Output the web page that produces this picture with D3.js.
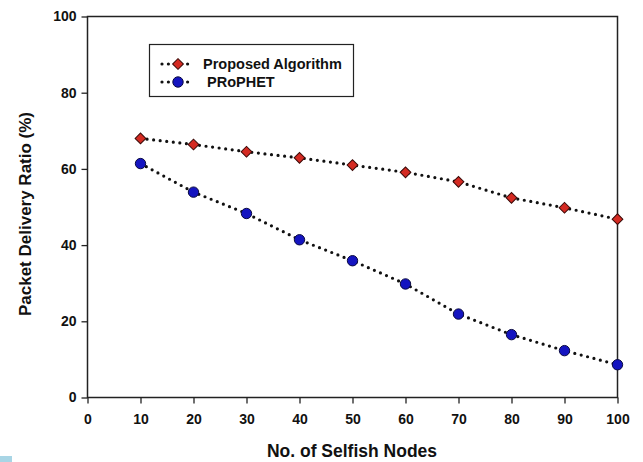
<!DOCTYPE html>
<html><head><meta charset="utf-8">
<script src="https://cdn.jsdelivr.net/npm/d3@7"></script>
<style>body{margin:0;background:#fff}svg{display:block;font-family:"Liberation Sans",Arial,sans-serif}</style>
</head><body><svg id="c" width="643" height="462"></svg>
<script>
const nodes = [10,20,30,40,50,60,70,80,90,100];
const proposed = [68.0,66.4,64.5,62.9,61.0,59.1,56.6,52.4,49.8,46.8];
const prophet = [61.4,53.9,48.3,41.4,35.9,29.8,21.9,16.5,12.3,8.6];
const xTicks = [0,10,20,30,40,50,60,70,80,90,100];
const yTicks = [0,20,40,60,80,100];
const seriesNames = ["Proposed Algorithm"," PRoPHET"];

const svg = d3.select("#c");
const L=87.5,R=617.5,T=16.5,B=397.5;
const x = d3.scaleLinear().domain([0,100]).range([L,R]);
const y = d3.scaleLinear().domain([0,100]).range([B,T]);

svg.append("rect").attr("x",0).attr("y",456).attr("width",12).attr("height",6).attr("fill","#a8d5e5");

svg.append("rect").attr("x",L).attr("y",T).attr("width",R-L).attr("height",B-T)
  .attr("fill","none").attr("stroke","#222").attr("stroke-width",1.5);

const xa = svg.append("g").attr("transform",`translate(0,${B})`)
  .call(d3.axisBottom(x).tickValues(xTicks).tickSize(6).tickPadding(11).tickFormat(d3.format("d")));
const ya = svg.append("g").attr("transform",`translate(${L},0)`)
  .call(d3.axisLeft(y).tickValues(yTicks).tickSize(6).tickPadding(5).tickFormat(d3.format("d")));
[xa,ya].forEach(a=>{
  a.select(".domain").remove();
  a.selectAll("line").attr("stroke","#222").attr("stroke-width",1.3);
  a.selectAll("text").attr("fill","#111").attr("font-size",14).attr("font-weight","bold")
   .attr("font-family",'"Liberation Sans",Arial,sans-serif');
});

svg.append("text").attr("x",352).attr("y",457).attr("text-anchor","middle")
  .attr("font-size",17.5).attr("font-weight","bold").attr("fill","#111").text("No. of Selfish Nodes");
svg.append("text").attr("transform","translate(31,214) rotate(-90)").attr("text-anchor","middle")
  .attr("font-size",17).attr("font-weight","bold").attr("fill","#111").text("Packet Delivery Ratio (%)");

const line = d3.line().x(d=>x(d[0])).y(d=>y(d[1]));
const data = [nodes.map((n,i)=>[n,proposed[i]]), nodes.map((n,i)=>[n,prophet[i]])];
data.forEach(d=>{
  svg.append("path").attr("d",line(d)).attr("fill","none").attr("stroke","#111")
    .attr("stroke-width",3.2).attr("stroke-linecap","round").attr("stroke-dasharray","0 6.6");
});
const diamond = d3.symbol().type(d3.symbolSquare).size(58);
function drawDiamond(cx,cy){
  svg.append("path").attr("d",diamond()).attr("transform",`translate(${cx},${cy}) rotate(45)`)
    .attr("fill","#d42a22").attr("stroke","#3a0a08").attr("stroke-width",1);
}
function drawCircle(cx,cy){
  svg.append("circle").attr("cx",cx).attr("cy",cy).attr("r",5.2)
    .attr("fill","#1414c0").attr("stroke","#0a0a40").attr("stroke-width",1);
}
data[0].forEach(d=>drawDiamond(x(d[0]),y(d[1])));
data[1].forEach(d=>drawCircle(x(d[0]),y(d[1])));

// legend
const lg = svg.append("g");
lg.append("rect").attr("x",149.5).attr("y",44.5).attr("width",204).attr("height",52)
  .attr("fill","#fff").attr("stroke","#222").attr("stroke-width",1.2);
[64,82].forEach((ly,i)=>{
  lg.append("path").attr("d",`M162,${ly}H194`).attr("stroke","#111").attr("stroke-width",3.2)
    .attr("stroke-linecap","round").attr("stroke-dasharray","0 6.4");
  if(i===0) drawDiamond(178,ly); else drawCircle(178,ly);
  lg.append("text").attr("x",203).attr("y",ly+5).attr("font-size",14.5).attr("font-weight","bold")
    .attr("fill","#111").attr("xml:space","preserve").style("white-space","pre").text(seriesNames[i]);
});
</script></body></html>
